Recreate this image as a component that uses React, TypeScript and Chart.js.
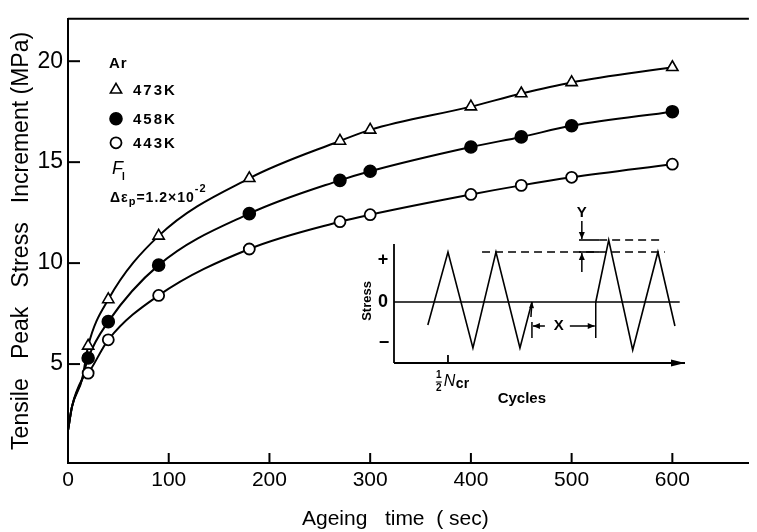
import React, { useEffect, useRef } from "react";
import { Chart, registerables } from "chart.js";

Chart.register(...registerables);

// ---------------- main chart data ----------------
const ageingTimes = [20, 40, 90, 180, 270, 300, 400, 450, 500, 600];
const stress473K = [5.9, 8.2, 11.35, 14.2, 16.05, 16.6, 17.75, 18.4, 18.95, 19.7];
const stress458K = [5.3, 7.1, 9.9, 12.45, 14.1, 14.55, 15.75, 16.25, 16.8, 17.5];
const stress443K = [4.55, 6.2, 8.4, 10.7, 12.05, 12.4, 13.4, 13.85, 14.25, 14.9];
// common start of the three fitted curves near the origin
const leadInTimes = [0, 4, 14];
const leadInStress = [1.7, 2.9, 4.25];
const xTickValues = [0, 100, 200, 300, 400, 500, 600];
const yTickValues = [5, 10, 15, 20];
const seriesLabels = ["473K", "458K", "443K"];

// ---------------- inset (schematic) data ----------------
const waveACycles = [0.58, 1, 1.52, 2, 2.5, 2.75];
const waveAStress = [-0.46, 1, -0.92, 1, -0.92, 0];
const waveBCycles = [4.08, 4.35, 4.85, 5.375, 5.73];
const waveBStress = [0, 1.24, -0.96, 1, -0.48];
const zeroLineCycles = [-0.125, 5.83];
const lowerDashCycles = [1.71, 5.52];
const upperDashCycles = [4.15, 5.5];
const dimSolidCycles = [3.73, 4.15];
const peakLevel = 1;
const overshootLevel = 1.24;
const halfNcrCycle = 1;
const xDimFrom = 2.75;
const xDimTo = 4.08;
const xDimLevel = -0.48;
const yDimCycle = 3.79;

const FONT = "'Liberation Sans', Arial, sans-serif";

const pts = (xs: number[], ys: number[]) => xs.map((x, i) => ({ x, y: ys[i] }));
const flat = (xs: number[], level: number) => xs.map((x) => ({ x, y: level }));

function arrow(ctx: CanvasRenderingContext2D, x1: number, y1: number, x2: number, y2: number, head = 6, hw = 3) {
  ctx.beginPath();
  ctx.moveTo(x1, y1);
  ctx.lineTo(x2, y2);
  ctx.stroke();
  const ang = Math.atan2(y2 - y1, x2 - x1);
  ctx.beginPath();
  ctx.moveTo(x2, y2);
  ctx.lineTo(x2 - head * Math.cos(ang) + hw * Math.sin(ang), y2 - head * Math.sin(ang) - hw * Math.cos(ang));
  ctx.lineTo(x2 - head * Math.cos(ang) - hw * Math.sin(ang), y2 - head * Math.sin(ang) + hw * Math.cos(ang));
  ctx.closePath();
  ctx.fill();
}

function line(ctx: CanvasRenderingContext2D, x1: number, y1: number, x2: number, y2: number) {
  ctx.beginPath();
  ctx.moveTo(x1, y1);
  ctx.lineTo(x2, y2);
  ctx.stroke();
}

const mainDecor = {
  id: "mainDecor",
  afterDraw(chart: any) {
    const { ctx, chartArea: a } = chart;
    const xs = chart.scales.x;
    const ys = chart.scales.y;
    ctx.save();
    ctx.strokeStyle = "#000";
    ctx.fillStyle = "#000";
    ctx.lineWidth = 2;
    // top frame line
    line(ctx, a.left, a.top, a.right, a.top);
    // inward ticks
    xTickValues.forEach((v) => {
      if (v === 0) return;
      const px = xs.getPixelForValue(v);
      line(ctx, px, a.bottom, px, a.bottom - 10);
    });
    yTickValues.forEach((v) => {
      const py = ys.getPixelForValue(v);
      line(ctx, a.left, py, a.left + 12, py);
    });
    // x title
    ctx.font = `21px ${FONT}`;
    ctx.textAlign = "center";
    ctx.textBaseline = "middle";
    ctx.fillText("Ageing   time  ( sec)", xs.getPixelForValue(325), a.bottom + 56);

    // legend block
    const lx = a.left + 41;
    ctx.textAlign = "left";
    ctx.font = `bold 15px ${FONT}`;
    (ctx as any).letterSpacing = "1px";
    ctx.fillText("Ar", lx, a.top + 45);
    const rows = [a.top + 71, a.top + 100, a.top + 124];
    const mx = a.left + 48;
    ctx.lineWidth = 1.6;
    // triangle
    {
      const r = 6.5;
      const cy = rows[0];
      ctx.beginPath();
      ctx.moveTo(mx, cy - r);
      ctx.lineTo(mx + r * 0.866, cy + r / 2);
      ctx.lineTo(mx - r * 0.866, cy + r / 2);
      ctx.closePath();
      ctx.fillStyle = "#fff";
      ctx.fill();
      ctx.stroke();
    }
    ctx.fillStyle = "#000";
    ctx.beginPath();
    ctx.arc(mx, rows[1], 6, 0, Math.PI * 2);
    ctx.fill();
    ctx.stroke();
    ctx.beginPath();
    ctx.arc(mx, rows[2], 5.5, 0, Math.PI * 2);
    ctx.fillStyle = "#fff";
    ctx.fill();
    ctx.lineWidth = 1.8;
    ctx.stroke();
    ctx.fillStyle = "#000";
    (ctx as any).letterSpacing = "2px";
    ctx.font = `bold 15px ${FONT}`;
    seriesLabels.forEach((t, i) => ctx.fillText(t, a.left + 65, rows[i] + 1));
    (ctx as any).letterSpacing = "0px";
    // F_I
    ctx.font = `italic 18px ${FONT}`;
    ctx.fillText("F", a.left + 44, a.top + 150);
    ctx.font = `bold 10px ${FONT}`;
    ctx.fillText("I", a.left + 54, a.top + 158);
    // Δε_p = 1.2×10^-2
    let cx = a.left + 42;
    const cy = a.top + 179;
    (ctx as any).letterSpacing = "1px";
    ctx.font = `bold 14px ${FONT}`;
    ctx.fillText("Δε", cx, cy);
    cx += ctx.measureText("Δε").width;
    ctx.font = `bold 11px ${FONT}`;
    ctx.fillText("p", cx, cy + 4);
    cx += ctx.measureText("p").width;
    ctx.font = `bold 14px ${FONT}`;
    ctx.fillText("=1.2×10", cx, cy);
    cx += ctx.measureText("=1.2×10").width;
    ctx.font = `bold 11px ${FONT}`;
    ctx.fillText("-2", cx, cy - 9);
    ctx.restore();
  },
};

const insetDecor = {
  id: "insetDecor",
  afterDraw(chart: any) {
    const { ctx, chartArea: a } = chart;
    const xs = chart.scales.x;
    const ys = chart.scales.y;
    const X = (v: number) => xs.getPixelForValue(v);
    const Y = (v: number) => ys.getPixelForValue(v);
    ctx.save();
    ctx.strokeStyle = "#000";
    ctx.fillStyle = "#000";
    ctx.lineWidth = 1.8;
    // axes
    line(ctx, a.left, Y(1.16), a.left, a.bottom);
    arrow(ctx, a.left, a.bottom, a.right, a.bottom, 14, 3.5);
    // ½Ncr tick
    line(ctx, X(halfNcrCycle), a.bottom, X(halfNcrCycle), a.bottom - 8);
    ctx.lineWidth = 1.5;
    // arrow at end of first wave segment
    arrow(ctx, X(xDimFrom) - 1, Y(-0.3), X(xDimFrom), Y(0), 6, 2.5);
    // X dimension
    line(ctx, X(xDimFrom), Y(-0.4), X(xDimFrom), Y(-0.72));
    line(ctx, X(xDimTo), Y(0), X(xDimTo), Y(-0.72));
    arrow(ctx, X(3.02), Y(xDimLevel), X(xDimFrom) + 1, Y(xDimLevel), 7, 3);
    arrow(ctx, X(3.54), Y(xDimLevel), X(xDimTo) - 1, Y(xDimLevel), 7, 3);
    // Y dimension
    arrow(ctx, X(yDimCycle), Y(1.62), X(yDimCycle), Y(overshootLevel) - 1, 7, 3);
    arrow(ctx, X(yDimCycle), Y(0.6), X(yDimCycle), Y(peakLevel) + 1, 7, 3);

    ctx.textAlign = "center";
    ctx.textBaseline = "middle";
    ctx.font = `bold 15px ${FONT}`;
    ctx.fillText("X", X(3.31), Y(xDimLevel));
    ctx.fillText("Y", X(yDimCycle), Y(1.78));
    ctx.fillText("Cycles", X(2.54), Y(-1.94));
    // stress side labels
    ctx.font = `bold 18px ${FONT}`;
    ctx.fillText("+", a.left - 11, Y(0.84));
    ctx.fillText("0", a.left - 11, Y(0));
    ctx.fillText("−", a.left - 10, Y(-0.82));
    // Stress (rotated)
    ctx.save();
    ctx.translate(a.left - 27, Y(0.02));
    ctx.rotate(-Math.PI / 2);
    ctx.font = `bold 13px ${FONT}`;
    ctx.fillText("Stress", 0, 0);
    ctx.restore();
    // ½ Ncr
    const fx = X(0.81);
    ctx.font = `bold 10px ${FONT}`;
    ctx.fillText("1", fx, Y(-1.47));
    ctx.fillText("2", fx, Y(-1.72));
    ctx.lineWidth = 1;
    line(ctx, fx - 3, Y(-1.6), fx + 3, Y(-1.6));
    ctx.textAlign = "left";
    ctx.font = `italic 16px ${FONT}`;
    ctx.fillText("N", fx + 5, Y(-1.6));
    ctx.font = `bold 14px ${FONT}`;
    ctx.fillText("cr", fx + 17, Y(-1.64));
    ctx.restore();
  },
};

export default function App() {
  const mainRef = useRef<HTMLCanvasElement>(null);
  const insetRef = useRef<HTMLCanvasElement>(null);

  useEffect(() => {
    document.body.style.margin = "0";
    const curve = (ys: number[]) => ({
      data: pts([...leadInTimes, ...ageingTimes], [...leadInStress, ...ys]),
      showLine: true,
      borderColor: "#000",
      borderWidth: 2,
      pointRadius: 0,
      cubicInterpolationMode: "monotone" as const,
      order: 2,
    });
    const markers = (ys: number[], style: string, fill: string, r: number, bw: number) => ({
      data: pts(ageingTimes, ys),
      showLine: false,
      pointStyle: style,
      pointRadius: r,
      pointBackgroundColor: fill,
      pointBorderColor: "#000",
      pointBorderWidth: bw,
      order: 0,
    });
    const main = new Chart(mainRef.current!, {
      type: "scatter",
      data: {
        datasets: [
          curve(stress473K),
          curve(stress458K),
          curve(stress443K),
          markers(stress473K, "triangle", "#fff", 6.5, 1.6),
          markers(stress458K, "circle", "#000", 6, 1.6),
          markers(stress443K, "circle", "#fff", 5.5, 1.8),
        ] as any,
      },
      options: {
        animation: false,
        responsive: false,
        events: [],
        layout: { padding: { top: 12, right: 0, left: 0, bottom: 0 } },
        plugins: { legend: { display: false }, tooltip: { enabled: false } },
        scales: {
          x: {
            type: "linear",
            min: 0,
            max: 676,
            grid: { display: false, drawTicks: false },
            border: { display: true, color: "#000", width: 2 },
            ticks: { color: "#000", font: { family: FONT, size: 21 }, padding: 5, maxRotation: 0 },
            afterBuildTicks: (s: any) => {
              s.ticks = xTickValues.map((v) => ({ value: v }));
            },
            afterFit: (s: any) => {
              s.height = 69;
            },
          },
          y: {
            type: "linear",
            min: 0.1,
            max: 22.1,
            grid: { display: false, drawTicks: false },
            border: { display: true, color: "#000", width: 2 },
            ticks: { color: "#000", font: { family: FONT, size: 23 }, padding: 5 },
            afterBuildTicks: (s: any) => {
              s.ticks = yTickValues.map((v) => ({ value: v }));
            },
            afterFit: (s: any) => {
              s.width = 68;
            },
            title: {
              display: true,
              text: "Tensile   Peak   Stress   Increment (MPa)",
              color: "#000",
              font: { family: FONT, size: 23 },
              padding: { top: 8, bottom: 0 },
            },
          },
        },
      } as any,
      plugins: [mainDecor],
    });

    const insetLine = (data: any[], dash: number[] = [], w = 1.6) => ({
      data,
      showLine: true,
      borderColor: "#000",
      borderWidth: w,
      borderDash: dash,
      pointRadius: 0,
      tension: 0,
      clip: false,
    });
    const inset = new Chart(insetRef.current!, {
      type: "scatter",
      data: {
        datasets: [
          insetLine(pts(waveACycles, waveAStress)),
          insetLine(pts(waveBCycles, waveBStress)),
          insetLine(flat(zeroLineCycles, 0)),
          insetLine(flat(lowerDashCycles, peakLevel), [8, 5]),
          insetLine(flat(upperDashCycles, overshootLevel), [8, 5]),
          insetLine(flat(dimSolidCycles, peakLevel)),
          insetLine(flat(dimSolidCycles, overshootLevel)),
        ] as any,
      },
      options: {
        animation: false,
        responsive: false,
        events: [],
        layout: { padding: { left: 44, right: 15, top: 40, bottom: 52 } },
        plugins: { legend: { display: false }, tooltip: { enabled: false } },
        scales: {
          x: { type: "linear", display: false, min: -0.125, max: 5.94 },
          y: { type: "linear", display: false, min: -1.22, max: 1.24 },
        },
      } as any,
      plugins: [insetDecor],
    });

    return () => {
      main.destroy();
      inset.destroy();
    };
  }, []);

  return (
    <div style={{ position: "relative", width: 757, height: 532, background: "#fff" }}>
      <canvas ref={mainRef} width={757} height={532} style={{ display: "block" }} />
      <canvas
        ref={insetRef}
        width={350}
        height={215}
        style={{ position: "absolute", left: 350, top: 200, display: "block" }}
      />
    </div>
  );
}
